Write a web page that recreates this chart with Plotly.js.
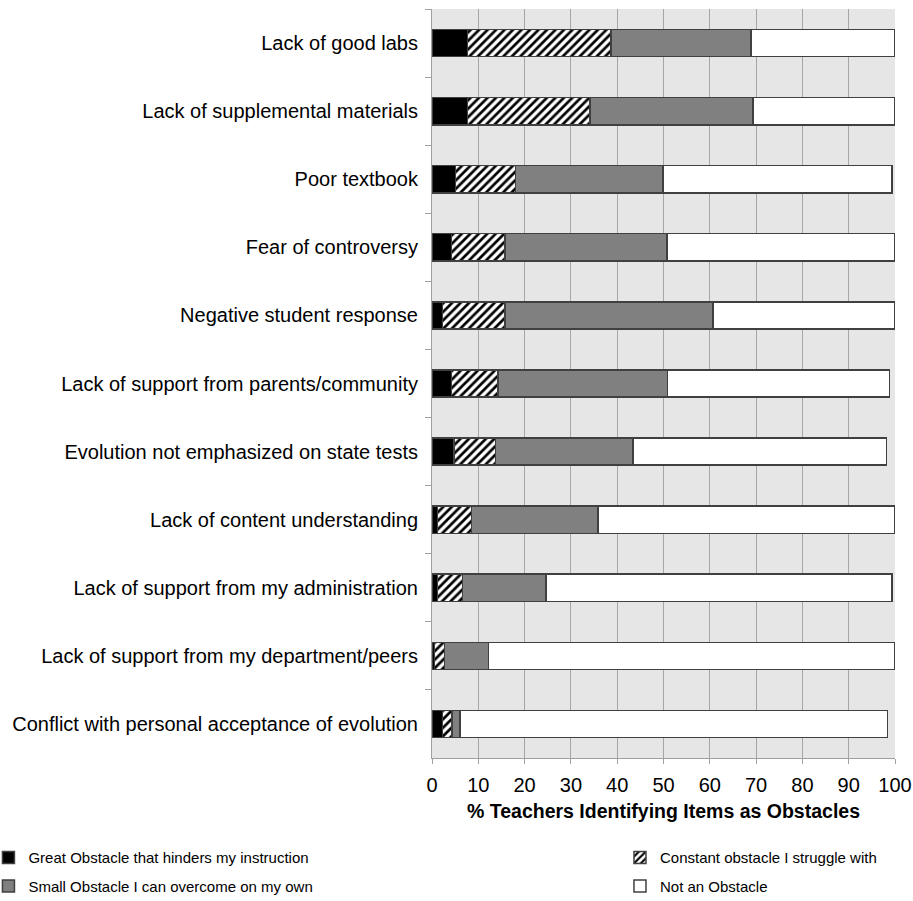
<!DOCTYPE html>
<html><head><meta charset="utf-8">
<script src="https://cdn.plot.ly/plotly-3.0.1.min.js"></script>
<style>body{margin:0;background:#fff;} #chart{width:913px;height:901px;}</style>
</head><body><div id="chart"></div>
<script>
const categories = [
  "Lack of good labs",
  "Lack of supplemental materials",
  "Poor textbook",
  "Fear of controversy",
  "Negative student response",
  "Lack of support from parents/community",
  "Evolution not emphasized on state tests",
  "Lack of content understanding",
  "Lack of support from my administration",
  "Lack of support from my department/peers",
  "Conflict with personal acceptance of evolution"
];
const greatObstacle    = [7.7, 7.7, 5.1, 4.2, 2.3, 4.2, 4.7, 1.2, 1.2, 0.5, 2.3];
const constantObstacle = [31.0, 26.4, 12.9, 11.6, 13.5, 10.1, 9.0, 7.3, 5.4, 2.2, 2.0];
const smallObstacle    = [30.2, 35.2, 31.9, 35.0, 44.9, 36.6, 29.7, 27.3, 18.0, 9.5, 1.7];
const notObstacle      = [31.1, 30.7, 49.4, 49.2, 39.3, 47.9, 54.8, 64.2, 74.7, 87.8, 92.4];
const seriesNames = [
  "Great Obstacle that hinders my instruction",
  "Constant obstacle I struggle with",
  "Small Obstacle I can overcome on my own",
  "Not an Obstacle"
];
const xTickValues = [0, 10, 20, 30, 40, 50, 60, 70, 80, 90, 100];
const xAxisTitle = "% Teachers Identifying Items as Obstacles";

const outline = {color: "#404040", width: 1.5};
const base = {type: "bar", orientation: "h", y: categories, hoverinfo: "x+y"};
const traces = [
  Object.assign({}, base, {x: greatObstacle, name: seriesNames[0],
    legend: "legend", legendgroup: "g0",
    marker: {color: "#000000", line: outline}}),
  Object.assign({}, base, {x: constantObstacle, name: seriesNames[1],
    legend: "legend2", legendgroup: "g1",
    marker: {color: "#ffffff", line: outline,
      pattern: {shape: "/", bgcolor: "#ffffff", fgcolor: "#000000", size: 6, solidity: 0.45}}}),
  Object.assign({}, base, {x: smallObstacle, name: seriesNames[2],
    legend: "legend", legendgroup: "g2",
    marker: {color: "#808080", line: outline}}),
  Object.assign({}, base, {x: notObstacle, name: seriesNames[3],
    legend: "legend2", legendgroup: "g3",
    marker: {color: "#ffffff", line: outline}})
];

const legendCommon = {
  orientation: "v",
  xanchor: "left",
  y: -0.111, yanchor: "top",
  traceorder: "grouped",
  tracegroupgap: 6,
  font: {family: "'Liberation Sans', Arial, sans-serif", size: 15, color: "#000000"},
  bgcolor: "rgba(0,0,0,0)"
};
const layout = {
  width: 913, height: 901,
  margin: {l: 432, r: 18, t: 9, b: 143, autoexpand: false},
  paper_bgcolor: "#ffffff",
  plot_bgcolor: "#e6e6e6",
  barmode: "stack",
  bargap: 0.6,
  font: {family: "'Liberation Sans', Arial, sans-serif", size: 20, color: "#000000"},
  xaxis: {
    range: [0, 100],
    automargin: false,
    tickvals: xTickValues,
    ticktext: xTickValues.map(String),
    showgrid: true, gridcolor: "#a6a6a6", gridwidth: 1,
    zeroline: false,
    showline: true, linecolor: "#a0a0a0", linewidth: 1,
    ticks: "outside", ticklen: 5, tickcolor: "#a0a0a0",
    ticklabelstandoff: 4,
    tickfont: {size: 20},
    title: {text: "<b>" + xAxisTitle + "</b>", standoff: 9,
      font: {size: 19.5}}
  },
  yaxis: {
    type: "category",
    automargin: false,
    autorange: "reversed",
    showgrid: false, zeroline: false,
    showline: true, linecolor: "#a0a0a0", linewidth: 1,
    ticks: "outside", ticklen: 6, tickcolor: "#a0a0a0",
    tickson: "boundaries",
    ticklabelstandoff: 9,
    tickfont: {size: 20}
  },
  showlegend: true,
  legend: Object.assign({}, legendCommon, {x: -0.958}),
  legend2: Object.assign({}, legendCommon, {x: 0.406})
};
Plotly.newPlot("chart", traces, layout, {displayModeBar: false, staticPlot: true});
</script>
</body></html>
